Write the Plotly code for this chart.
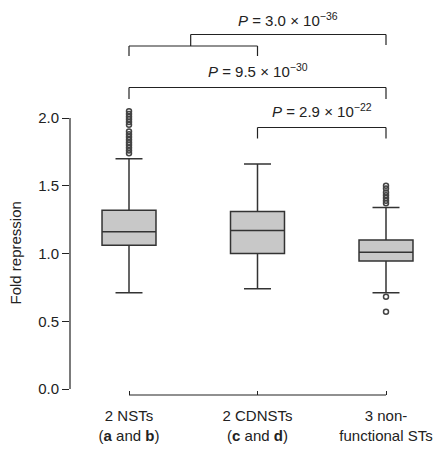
import plotly.graph_objects as go

categories = ["2 NSTs<br>(<b>a</b> and <b>b</b>)", "2 CDNSTs<br>(<b>c</b> and <b>d</b>)", "3 non-<br>functional STs"]
q1 = [1.06, 1.00, 0.945]
median = [1.16, 1.17, 1.01]
q3 = [1.32, 1.31, 1.10]
lower_whisker = [0.71, 0.74, 0.71]
upper_whisker = [1.70, 1.66, 1.34]
outliers_nst = [1.74, 1.76, 1.78, 1.80, 1.82, 1.84, 1.86, 1.88, 1.90, 1.95, 1.97, 1.99, 2.01, 2.03, 2.05]
outliers_cdnst = []
outliers_nonfunc = [1.37, 1.39, 1.41, 1.43, 1.45, 1.48, 1.50, 0.68, 0.57]
y_ticks = [0.0, 0.5, 1.0, 1.5, 2.0]
p_labels = ["<i>P</i> = 3.0 × 10<sup>−36</sup>",
            "<i>P</i> = 9.5 × 10<sup>−30</sup>",
            "<i>P</i> = 2.9 × 10<sup>−22</sup>"]

FONT = "Liberation Sans, Arial, Helvetica, sans-serif"
DARK = "#222222"
FS = 15
pos = [0, 1, 2]

fig = go.Figure()
fig.add_trace(go.Box(
    x=pos, q1=q1, median=median, q3=q3,
    lowerfence=lower_whisker, upperfence=upper_whisker,
    width=0.42, whiskerwidth=0.5,
    fillcolor="#c8c8c8", line=dict(color="#333333", width=1.5),
    boxpoints=False, showlegend=False, hoverinfo="skip",
))
outlier_groups = [outliers_nst, outliers_cdnst, outliers_nonfunc]
ox, oy = [], []
for i, grp in enumerate(outlier_groups):
    ox += [pos[i]] * len(grp)
    oy += grp
fig.add_trace(go.Scatter(
    x=ox, y=oy, mode="markers",
    marker=dict(symbol="circle-open", size=5, color="#444444", line=dict(width=1.5)),
    showlegend=False, hoverinfo="skip",
))

line_style = dict(color=DARK, width=1.2)
def py(p):
    return (389 - p) / 135.5

shapes = []
shapes.append(dict(type="line", xref="paper", yref="y", x0=0, x1=0, y0=0, y1=2, line=line_style))
shapes.append(dict(type="line", xref="x", yref="paper", x0=0, x1=2, y0=0, y1=0, line=line_style))

def bracket(x0, x1, ytop, ybot):
    return [
        dict(type="line", xref="x", yref="y", x0=x0, x1=x1, y0=ytop, y1=ytop, line=line_style),
        dict(type="line", xref="x", yref="y", x0=x0, x1=x0, y0=ytop, y1=ybot, line=line_style),
        dict(type="line", xref="x", yref="y", x0=x1, x1=x1, y0=ytop, y1=ybot, line=line_style),
    ]

shapes += [dict(type="line", xref="x", yref="y", x0=0.48, x1=2, y0=py(34.5), y1=py(34.5), line=line_style),
           dict(type="line", xref="x", yref="y", x0=0.48, x1=0.48, y0=py(34.5), y1=py(46), line=line_style),
           dict(type="line", xref="x", yref="y", x0=2, x1=2, y0=py(34.5), y1=py(45), line=line_style)]
shapes += bracket(0, 1, py(46), py(56))
shapes += bracket(0, 2, py(87.5), py(99))
shapes += bracket(1, 2, py(127.5), py(138.5))

annotations = [
    dict(x=1.24, y=py(31), xref="x", yref="y", text=p_labels[0], showarrow=False,
         xanchor="center", yanchor="bottom", font=dict(size=FS, color=DARK, family=FONT)),
    dict(x=1.0, y=py(82), xref="x", yref="y", text=p_labels[1], showarrow=False,
         xanchor="center", yanchor="bottom", font=dict(size=FS, color=DARK, family=FONT)),
    dict(x=1.5, y=py(121.5), xref="x", yref="y", text=p_labels[2], showarrow=False,
         xanchor="center", yanchor="bottom", font=dict(size=FS, color=DARK, family=FONT)),
    dict(x=0, y=1.0, xref="paper", yref="y", xshift=-55, text="Fold repression", textangle=-90,
         showarrow=False, xanchor="center", yanchor="middle", font=dict(size=FS, color=DARK, family=FONT)),
]

fig.update_layout(
    width=438, height=449,
    margin=dict(l=70, r=8, t=10, b=54, autoexpand=False),
    plot_bgcolor="white", paper_bgcolor="white",
    font=dict(family=FONT, size=FS, color=DARK),
    shapes=shapes, annotations=annotations,
    xaxis=dict(range=[-59 / 128.5, 301 / 128.5], tickmode="array", tickvals=pos, ticktext=categories,
               ticks="inside", ticklen=4, tickwidth=1.2, tickcolor=DARK, automargin=False,
               ticklabelstandoff=10,
               showline=False, showgrid=False, zeroline=False, fixedrange=True),
    yaxis=dict(range=[-6 / 135.5, 379 / 135.5], tickmode="array", tickvals=y_ticks,
               ticktext=[f"{v:.1f}" for v in y_ticks], automargin=False,
               ticks="outside", ticklen=7, tickwidth=1.2, tickcolor=DARK,
               showline=False, showgrid=False, zeroline=False, fixedrange=True),
)

fig.write_html("out.html", config={"displayModeBar": False},
               post_script="document.body.style.margin='0';document.body.style.overflow='hidden';")
